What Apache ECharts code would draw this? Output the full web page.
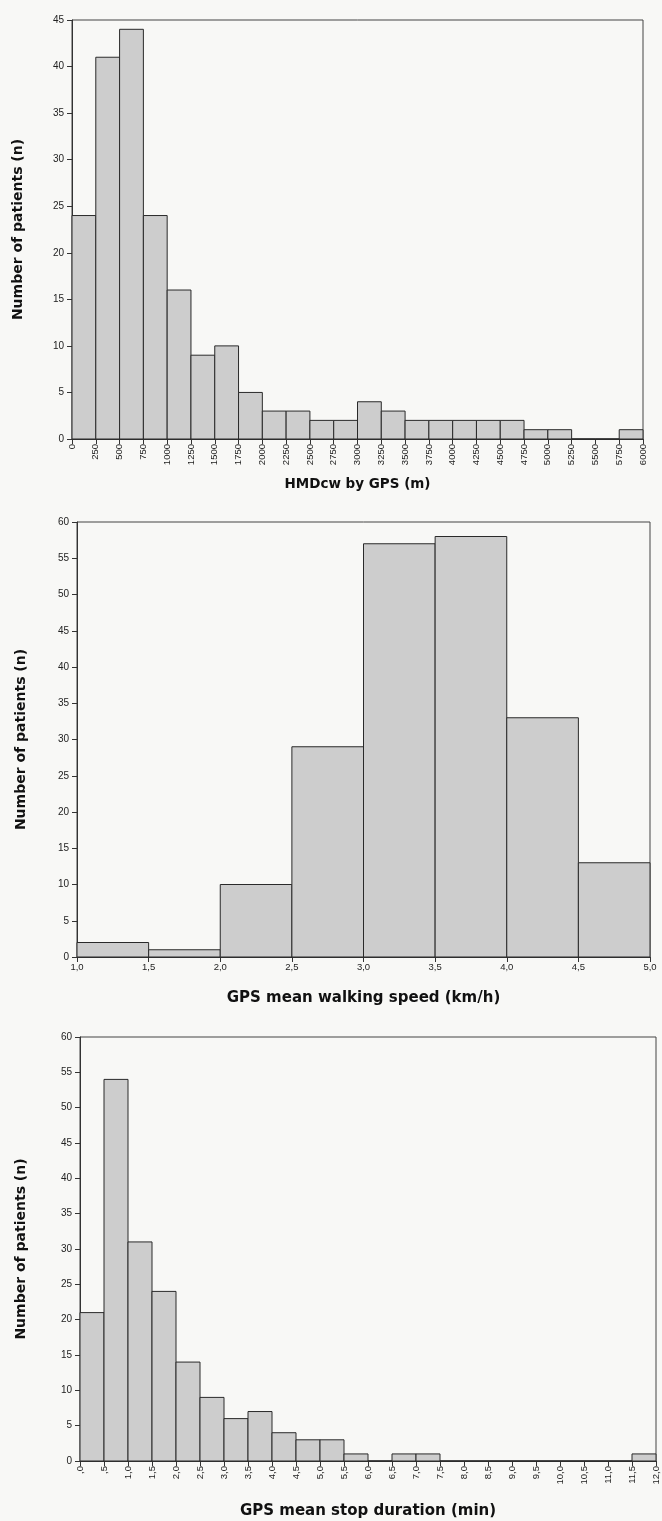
<!DOCTYPE html>
<html>
<head>
<meta charset="utf-8">
<script src="https://cdn.jsdelivr.net/npm/echarts@6/dist/echarts.min.js"></script>
<style>
  html, body { margin: 0; padding: 0; background: #f8f8f6; }
  #chart { width: 662px; height: 1521px; }
</style>
</head>
<body>
<div id="chart"></div>
<script>
// HMDcw by GPS (m), bins of 250 m
const hmdBinStart = [0, 250, 500, 750, 1000, 1250, 1500, 1750, 2000, 2250, 2500, 2750,
  3000, 3250, 3500, 3750, 4000, 4250, 4500, 4750, 5000, 5250, 5500, 5750];
const hmdBinWidth = 250;
const hmdCounts = [24, 41, 44, 24, 16, 9, 10, 5, 3, 3, 2, 2, 4, 3, 2, 2, 2, 2, 2, 1, 1, 0, 0, 1];

// GPS mean walking speed (km/h), bins of 0.5
const speedBinStart = [1.0, 1.5, 2.0, 2.5, 3.0, 3.5, 4.0, 4.5];
const speedBinWidth = 0.5;
const speedCounts = [2, 1, 10, 29, 57, 58, 33, 13];

// GPS mean stop duration (min), bins of 0.5
const stopBinStart = [0, 0.5, 1.0, 1.5, 2.0, 2.5, 3.0, 3.5, 4.0, 4.5, 5.0, 5.5, 6.0, 6.5, 7.0, 7.5,
  8.0, 8.5, 9.0, 9.5, 10.0, 10.5, 11.0, 11.5];
const stopBinWidth = 0.5;
const stopCounts = [21, 54, 31, 24, 14, 9, 6, 7, 4, 3, 3, 1, 0, 1, 1, 0, 0, 0, 0, 0, 0, 0, 0, 1];

const yTitle = 'Number of patients (n)';
const font = '"Liberation Sans", Arial, sans-serif';
const titleFont = '"DejaVu Sans", Verdana, sans-serif';
const ink = '#333';

function bins(starts, width, counts) {
  return starts.map((s, i) => [s, s + width, counts[i]]);
}

function renderBar(params, api) {
  const p0 = api.coord([api.value(0), 0]);
  const p1 = api.coord([api.value(1), api.value(2)]);
  return {
    type: 'rect',
    shape: { x: p0[0], y: p1[1], width: p1[0] - p0[0], height: p0[1] - p1[1] },
    style: { fill: '#cdcdcd', stroke: '#2a2a2a', lineWidth: 1 }
  };
}

function commaFmt(v) {
  return v.toFixed(1).replace('.', ',');
}
function stopFmt(v) {
  const s = v.toFixed(1).replace('.', ',');
  return v < 1 ? s.slice(1) : s;
}

function xAxisOf(idx, min, max, interval, name, gap, size, fmt, rotate) {
  return {
    type: 'value', gridIndex: idx, min: min, max: max, interval: interval,
    name: name, nameLocation: 'middle', nameGap: gap,
    nameTextStyle: { fontFamily: titleFont, fontWeight: 'bold', fontSize: size, color: '#111' },
    axisLine: { onZero: false, lineStyle: { color: ink, width: 1 } },
    axisTick: { show: true, length: 5, lineStyle: { color: ink } },
    axisLabel: {
      formatter: fmt, rotate: rotate, margin: 5, fontFamily: font, fontSize: 9.5, color: '#222',
      showMinLabel: true, showMaxLabel: true
    },
    splitLine: { show: false }
  };
}

function yAxisOf(idx, max, gap) {
  return {
    type: 'value', gridIndex: idx, min: 0, max: max, interval: 5,
    name: yTitle, nameLocation: 'middle', nameGap: gap, nameRotate: 90,
    nameTextStyle: { fontFamily: titleFont, fontWeight: 'bold', fontSize: 14, color: '#111' },
    axisLine: { show: true, lineStyle: { color: ink, width: 1 } },
    axisTick: { show: true, length: 5, lineStyle: { color: ink } },
    axisLabel: { margin: 8, fontFamily: font, fontSize: 10, color: '#222' },
    splitLine: { show: false }
  };
}

const chart = echarts.init(document.getElementById('chart'));
chart.setOption({
  backgroundColor: '#f8f8f6',
  animation: false,
  grid: [
    { left: 72, right: 19, top: 20, height: 419, show: true, borderColor: '#444', borderWidth: 1 },
    { left: 77, right: 12, top: 522, height: 435, show: true, borderColor: '#444', borderWidth: 1 },
    { left: 80, right: 6, top: 1037, height: 424, show: true, borderColor: '#444', borderWidth: 1 }
  ],
  xAxis: [
    xAxisOf(0, 0, 6000, 250, 'HMDcw by GPS (m)', 38, 13.5, v => String(v), 90),
    xAxisOf(1, 1, 5, 0.5, 'GPS mean walking speed (km/h)', 34, 15, commaFmt, 0),
    xAxisOf(2, 0, 12, 0.5, 'GPS mean stop duration (min)', 43, 15, stopFmt, 90)
  ],
  yAxis: [
    yAxisOf(0, 45, 47),
    yAxisOf(1, 60, 49),
    yAxisOf(2, 60, 52)
  ],
  series: [
    { type: 'custom', xAxisIndex: 0, yAxisIndex: 0, renderItem: renderBar,
      data: bins(hmdBinStart, hmdBinWidth, hmdCounts) },
    { type: 'custom', xAxisIndex: 1, yAxisIndex: 1, renderItem: renderBar,
      data: bins(speedBinStart, speedBinWidth, speedCounts) },
    { type: 'custom', xAxisIndex: 2, yAxisIndex: 2, renderItem: renderBar,
      data: bins(stopBinStart, stopBinWidth, stopCounts) }
  ]
});
</script>
</body>
</html>
